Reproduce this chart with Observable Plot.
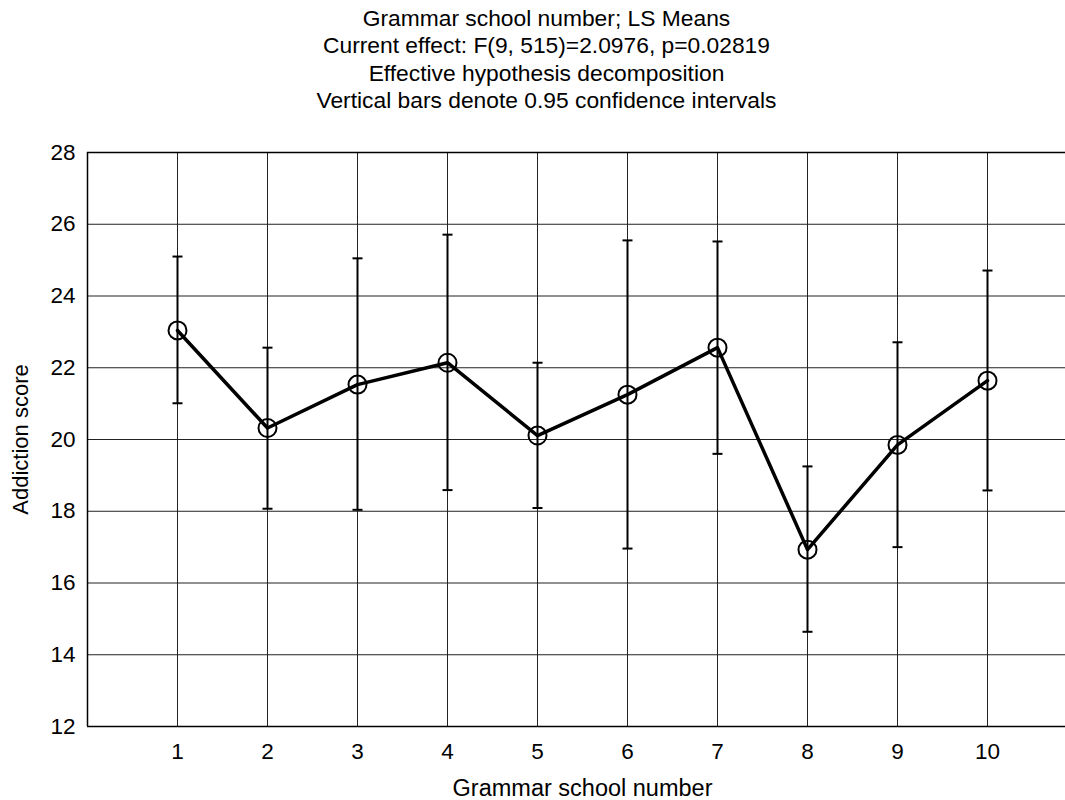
<!DOCTYPE html>
<html>
<head>
<meta charset="utf-8">
<script src="https://cdn.jsdelivr.net/npm/d3@7"></script>
<script src="https://cdn.jsdelivr.net/npm/@observablehq/plot@0.6"></script>
<style>
  body { margin: 0; background: #fff; font-family: "Liberation Sans", Arial, sans-serif; }
  #title { box-sizing: border-box; width: 1065px; height: 114px; padding-top: 5px; padding-left: 28px;
           text-align: center; font-size: 22.8px; line-height: 27.3px; color: #000; }
  svg { display: block; }
</style>
</head>
<body>
<div id="title">
  <div>Grammar school number; LS Means</div>
  <div>Current effect: F(9, 515)=2.0976, p=0.02819</div>
  <div>Effective hypothesis decomposition</div>
  <div>Vertical bars denote 0.95 confidence intervals</div>
</div>
<div id="chart"></div>
<script>
const schools = [1, 2, 3, 4, 5, 6, 7, 8, 9, 10];
const means   = [23.04, 20.32, 21.53, 22.14, 20.11, 21.25, 22.56, 16.93, 19.85, 21.64];
const upper   = [25.10, 22.56, 25.05, 25.71, 22.14, 25.55, 25.52, 19.25, 22.71, 24.71];
const lower   = [21.01, 18.07, 18.04, 18.59, 18.09, 16.96, 19.60, 14.64, 17.00, 18.58];
const yTicks  = [12, 14, 16, 18, 20, 22, 24, 26, 28];

const data = schools.map((s, i) => ({school: s, mean: means[i], lo: lower[i], hi: upper[i]}));

const capSymbol = {
  draw(context, size) {
    const r = Math.sqrt(size / Math.PI);
    context.moveTo(-r, 0);
    context.lineTo(r, 0);
  }
};

const chart = Plot.plot({
  width: 1065,
  height: 686,
  marginLeft: 87,
  marginRight: -12,
  marginTop: 38,
  marginBottom: 74,
  style: {fontFamily: "'Liberation Sans', Arial, sans-serif", fontSize: "22px", color: "#000", background: "#fff"},
  x: {domain: [0, 11]},
  y: {domain: [12, 28]},
  marks: [
    Plot.ruleX(schools, {stroke: "#222", strokeWidth: 1}),
    Plot.ruleY(yTicks.slice(1, -1), {stroke: "#222", strokeWidth: 1}),
    Plot.ruleY([12, 28], {stroke: "#000", strokeWidth: 1.5}),
    Plot.ruleX([0], {stroke: "#000", strokeWidth: 1.5}),
    Plot.axisX(schools, {fontSize: 22.5, tickSize: 0, tickPadding: 17, tickFormat: d => String(d), label: null}),
    Plot.axisX([], {fontSize: 23.5, tickSize: 0, label: "Grammar school number", labelAnchor: "center", labelArrow: "none", labelOffset: 69}),
    Plot.axisY(yTicks, {fontSize: 22.5, tickSize: 0, tickPadding: 12, label: null}),
    Plot.axisY([], {fontSize: 22, tickSize: 0, label: "Addiction score", labelAnchor: "center", labelArrow: "none", labelOffset: 75}),
    Plot.ruleX(data, {x: "school", y1: "lo", y2: "hi", stroke: "#000", strokeWidth: 2}),
    Plot.dot(data, {x: "school", y: "lo", symbol: capSymbol, r: 5, stroke: "#000", strokeWidth: 2}),
    Plot.dot(data, {x: "school", y: "hi", symbol: capSymbol, r: 5, stroke: "#000", strokeWidth: 2}),
    Plot.line(data, {x: "school", y: "mean", stroke: "#000", strokeWidth: 3.5}),
    Plot.dot(data, {x: "school", y: "mean", r: 9, stroke: "#000", strokeWidth: 2, fill: "none"})
  ]
});
document.getElementById("chart").appendChild(chart);
</script>
</body>
</html>
